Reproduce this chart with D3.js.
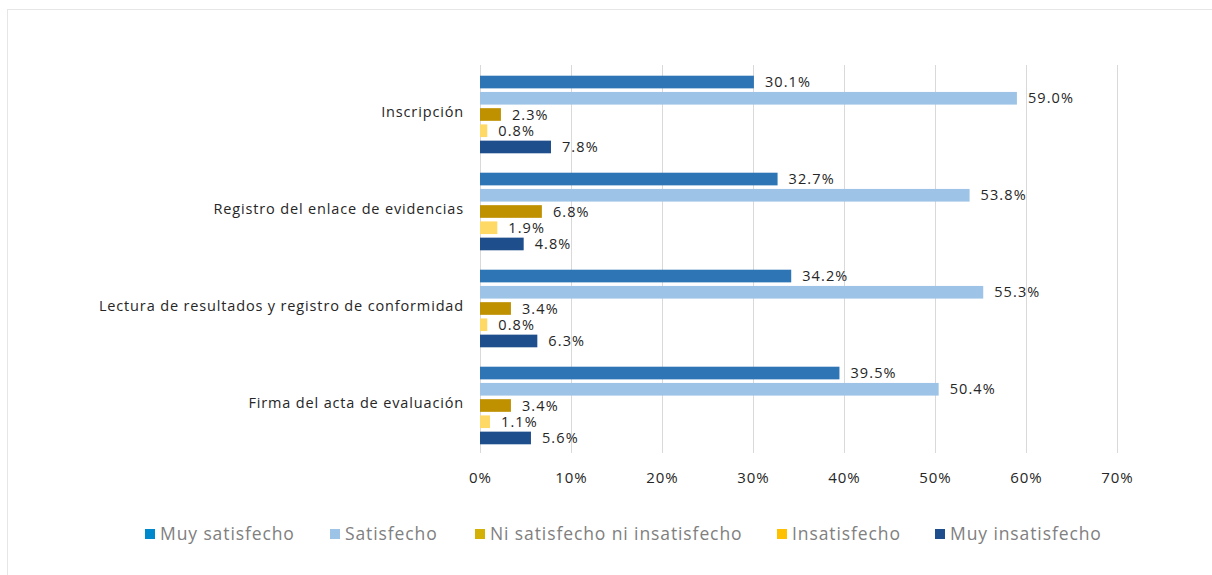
<!DOCTYPE html>
<html>
<head>
<meta charset="utf-8">
<script src="https://cdn.jsdelivr.net/npm/d3@7"></script>
<style>
  body { margin: 0; background: #fff; }
  svg { display: block; font-family: "Open Sans", "Noto Sans", sans-serif; }
</style>
</head>
<body>
<div class="bar-chart"></div>
<script>
// categories and series
var categories = [
  "Inscripción",
  "Registro del enlace de evidencias",
  "Lectura de resultados y registro de conformidad",
  "Firma del acta de evaluación"
];
var seriesNames = ["Muy satisfecho", "Satisfecho", "Ni satisfecho ni insatisfecho", "Insatisfecho", "Muy insatisfecho"];
var muySatisfecho   = [30.1, 32.7, 34.2, 39.5];
var satisfecho      = [59.0, 53.8, 55.3, 50.4];
var niNi            = [2.3, 6.8, 3.4, 3.4];
var insatisfecho    = [0.8, 1.9, 0.8, 1.1];
var muyInsatisfecho = [7.8, 4.8, 6.3, 5.6];
var xTicks = [0, 10, 20, 30, 40, 50, 60, 70];

var barColors    = ["#2e75b6", "#9dc3e6", "#bf9000", "#ffd966", "#1f4e8c"];
var legendColors = ["#0088cc", "#9dc3e6", "#d4b106", "#ffc000", "#1f4e8c"];

var seriesValues = [muySatisfecho, satisfecho, niNi, insatisfecho, muyInsatisfecho];

// dimensions
var W = 1212, H = 575;
var margin = {top: 65, left: 480, right: 95};
var plotH = 388;

var svg = d3.select(".bar-chart").append("svg")
    .attr("width", W)
    .attr("height", H);

// outer frame
svg.append("rect")
    .attr("x", 7.5).attr("y", 9.5)
    .attr("width", W + 10).attr("height", H + 10)
    .style("fill", "none")
    .style("stroke", "#e6e6e6");

var x = d3.scaleLinear().domain([0, 70]).range([margin.left, margin.left + 637]);
var y0 = d3.scaleBand().domain(categories).range([margin.top, margin.top + plotH]).paddingInner(0.2).paddingOuter(0.1);
var y1 = d3.scaleBand().domain(seriesNames).range([0, y0.bandwidth()]).paddingInner(0.22);

// gridlines
svg.append("g").selectAll("line")
    .data(xTicks)
  .enter().append("line")
    .attr("x1", function(d) { return Math.round(x(d)) + 0.5; })
    .attr("x2", function(d) { return Math.round(x(d)) + 0.5; })
    .attr("y1", margin.top)
    .attr("y2", margin.top + plotH)
    .style("stroke", "#d9d9d9")
    .style("stroke-width", 1);

// bars
var groups = svg.append("g").selectAll("g")
    .data(categories)
  .enter().append("g")
    .attr("transform", function(d) { return "translate(0," + (y0(d) + 1) + ")"; });

groups.each(function(cat, ci) {
  var g = d3.select(this);
  seriesNames.forEach(function(s, si) {
    var v = seriesValues[si][ci];
    g.append("rect")
        .attr("x", x(0))
        .attr("y", y1(s))
        .attr("width", x(v) - x(0))
        .attr("height", y1.bandwidth())
        .style("fill", barColors[si]);
    g.append("text")
        .attr("x", x(v) + 11)
        .attr("y", y1(s) + y1.bandwidth() / 2)
        .attr("dy", "0.36em")
        .style("font-size", "14.5px")
        .style("letter-spacing", "1.1px")
        .style("fill", "#262626")
        .text(v.toFixed(1) + "%");
  });
});

// category labels
svg.append("g").selectAll("text")
    .data(categories)
  .enter().append("text")
    .attr("x", margin.left - 16)
    .attr("y", function(d) { return y0(d) + y0.bandwidth() / 2; })
    .attr("dy", "0.25em")
    .attr("text-anchor", "end")
    .style("font-size", "14.5px")
    .style("letter-spacing", "0.85px")
    .style("fill", "#262626")
    .text(function(d) { return d; });

// x axis
var xAxis = svg.append("g")
    .attr("transform", "translate(0," + (margin.top + plotH) + ")")
    .call(d3.axisBottom(x).tickValues(xTicks).tickFormat(function(d) { return d + "%"; }).tickSize(0).tickPadding(19));
xAxis.select(".domain").remove();
xAxis.selectAll("text")
    .style("font-family", "'Open Sans', 'Noto Sans', sans-serif")
    .style("font-size", "15px")
    .style("letter-spacing", "1px")
    .style("fill", "#262626");

// legend
var legendX = [145, 330, 475, 777, 935];
var legend = svg.append("g").selectAll("g")
    .data(seriesNames)
  .enter().append("g")
    .attr("transform", function(d, i) { return "translate(" + legendX[i] + ",529)"; });
legend.append("rect")
    .attr("width", 10).attr("height", 10)
    .style("fill", function(d, i) { return legendColors[i]; });
legend.append("text")
    .attr("x", 15)
    .attr("y", 5)
    .attr("dy", "0.36em")
    .style("font-size", "17.5px")
    .style("letter-spacing", "0.9px")
    .style("fill", "#808080")
    .text(function(d) { return d; });
</script>
</body>
</html>
